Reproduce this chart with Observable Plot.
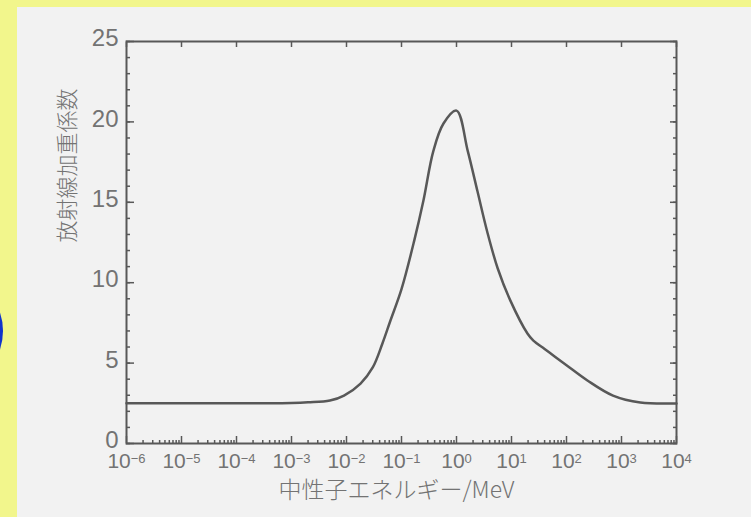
<!DOCTYPE html>
<html><head><meta charset="utf-8">
<script src="https://cdn.jsdelivr.net/npm/d3@7"></script>
<script src="https://cdn.jsdelivr.net/npm/@observablehq/plot@0.6"></script>
<style>
html,body{margin:0;padding:0;background:#f2f68c;width:751px;height:517px;overflow:hidden;position:relative}
#panel{position:absolute;left:17px;top:7px;width:734px;height:510px;background:#f2f2f2}
#dot{position:absolute;left:-113px;top:273px;width:116px;height:116px;border-radius:50%;background:#1133cc}
#chart{position:absolute;left:0;top:0}
</style></head><body>
<div id="panel"></div><div id="dot"></div><div id="chart"></div>
<script>
// Neutron energy (MeV) and radiation weighting factor
const energy = [1e-6, 1e-5, 1e-4, 1e-3, 2e-3, 5e-3, 9e-3, 0.018, 0.03, 0.045, 0.063, 0.1, 0.17, 0.25, 0.38, 0.58, 1, 1.6, 2.4, 3.6, 5.6, 9.5, 19.5, 25, 40, 60, 100, 240, 700, 2200, 10000];
const weight = [2.5, 2.5, 2.5, 2.52, 2.56, 2.67, 2.98, 3.73, 4.73, 6.22, 7.65, 9.6, 12.6, 15.1, 18.2, 19.9, 20.7, 18.2, 15.7, 13.2, 10.9, 8.9, 6.84, 6.4, 5.88, 5.43, 4.87, 3.92, 2.98, 2.55, 2.49];
const yMajor = [0, 5, 10, 15, 20, 25];
const yMinor = d3.range(0, 26);
const xExponents = [-6, -5, -4, -3, -2, -1, 0, 1, 2, 3, 4];
const yTitle = "放射線加重係数";
const xTitle = "中性子エネルギー/MeV";

const xDecades = xExponents.map(p => 10 ** p);
const xMinor = [];
xExponents.slice(0, -1).forEach(p => { for (let k = 2; k <= 9; k++) xMinor.push(k * 10 ** p); });
const data = energy.map((e, i) => ({e, w: weight[i]}));

const ink = "#585858";
const txt = "#737373";
const numFont = "'Liberation Sans Narrow', 'Liberation Sans', sans-serif";
const tk = {text: null, label: null, stroke: ink, strokeWidth: 1.5};

const chart = Plot.plot({
  width: 751, height: 517,
  marginLeft: 126, marginRight: 75, marginTop: 41, marginBottom: 74,
  style: {background: "transparent", color: txt, fontFamily: numFont},
  x: {type: "log", domain: [1e-6, 1e4]},
  y: {domain: [0, 25]},
  marks: [
    Plot.axisY(yMinor, {anchor: "left", tickSize: -4, ...tk}),
    Plot.axisY(yMajor, {anchor: "left", tickSize: -8, ...tk}),
    Plot.axisY(yMinor, {anchor: "right", tickSize: -4, ...tk}),
    Plot.axisY(yMajor, {anchor: "right", tickSize: -7, ...tk}),
    Plot.axisY(yMajor, {anchor: "left", tickSize: 0, tickPadding: 8, dy: -3, fontSize: 24, fill: txt, label: null}),
    Plot.axisX(xMinor, {anchor: "bottom", tickSize: -3, ...tk}),
    Plot.axisX(xDecades, {anchor: "bottom", tickSize: -7, ...tk}),
    Plot.axisX(xDecades, {anchor: "top", tickSize: -5, ...tk}),
    Plot.axisX(xDecades, {anchor: "bottom", tickSize: 0, tickPadding: 10, fontSize: 21, fill: txt, label: null,
      tickFormat: d => String(Math.round(Math.log10(d))), className: "xlab"}),
    Plot.frame({stroke: ink, strokeWidth: 2}),
    Plot.line(data, {x: "e", y: "w", curve: "catmull-rom", stroke: ink, strokeWidth: 2.5}),
    Plot.text([yTitle], {frameAnchor: "left", dx: -59, rotate: -90, fontSize: 22, fill: txt,
      fontFamily: "'Noto Sans CJK JP', sans-serif", fontWeight: 300}),
    Plot.text([xTitle], {frameAnchor: "bottom", dx: -5, dy: 54, fontSize: 23, fill: txt,
      fontFamily: "'Noto Sans CJK JP', sans-serif", fontWeight: 300})
  ]
});
document.getElementById("chart").appendChild(chart);

// superscript exponents on x tick labels
const ns = "http://www.w3.org/2000/svg";
chart.querySelectorAll(".xlab text").forEach(t => {
  const exp = t.textContent;
  t.textContent = "10";
  const s = document.createElementNS(ns, "tspan");
  s.setAttribute("dy", "-0.45em");
  s.setAttribute("font-size", "13");
  s.textContent = exp.replace("-", "−");
  t.appendChild(s);
});
</script>
</body></html>
